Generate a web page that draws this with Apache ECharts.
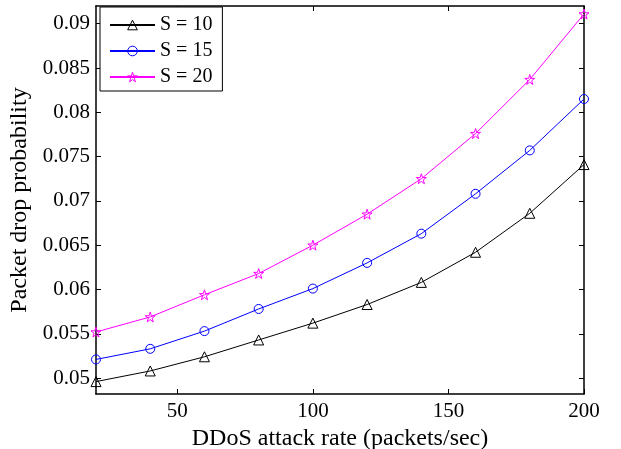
<!DOCTYPE html>
<html>
<head>
<meta charset="utf-8">
<script src="https://cdn.jsdelivr.net/npm/echarts@6/dist/echarts.min.js"></script>
<style>
html,body{margin:0;padding:0;background:#fff;}
#chart{width:621px;height:449px;}
</style>
</head>
<body>
<div id="chart"></div>
<script>
// attack rate (packets/sec)
var rates = [20, 40, 60, 80, 100, 120, 140, 160, 180, 200];
// packet drop probability per buffer size
var s10 = [0.0496, 0.0508, 0.0524, 0.0543, 0.0562, 0.0583, 0.0608, 0.0642, 0.0686, 0.0741];
var s15 = [0.0521, 0.0533, 0.0553, 0.0578, 0.0601, 0.0630, 0.0663, 0.0708, 0.0757, 0.0815];
var s20 = [0.0552, 0.0569, 0.0594, 0.0618, 0.0650, 0.0685, 0.0725, 0.0776, 0.0837, 0.0911];
var xTicks = [50, 100, 150, 200];
var yTicks = [0.05, 0.055, 0.06, 0.065, 0.07, 0.075, 0.08, 0.085, 0.09];

var font = 'Liberation Serif';
var star = 'path://M50 0L61.23 34.55L97.55 34.55L68.17 55.9L79.39 90.45L50 69.1L20.61 90.45L31.83 55.9L2.45 34.55L38.77 34.55Z';
var clear = 'rgba(0,0,0,0)';

function pairs(ys) {
    var out = [];
    for (var i = 0; i < rates.length; i++) {
        out.push([rates[i], ys[i]]);
    }
    return out;
}

function mkSeries(name, ys, color, symbol, size) {
    return {
        name: name,
        type: 'line',
        data: pairs(ys),
        symbol: symbol,
        symbolSize: size,
        showAllSymbol: true,
        clip: false,
        lineStyle: { color: color, width: 1 },
        itemStyle: { color: clear, borderColor: color, borderWidth: 1 }
    };
}

function legendItem(name, color) {
    return { name: name, itemStyle: { color: clear, borderColor: color, borderWidth: 1 } };
}

var axisLine = { show: true, onZero: false, lineStyle: { color: '#000', width: 1.5 } };

var chart = echarts.init(document.getElementById('chart'));
var option = {
    animation: false,
    backgroundColor: '#fff',
    textStyle: { fontFamily: font },
    grid: { left: 96, right: 37, top: 6, bottom: 55, outerBoundsMode: 'none', containLabel: false },
    legend: {
        orient: 'vertical',
        left: 100,
        top: 7,
        padding: [8, 10, 4, 9],
        itemGap: 6,
        itemWidth: 45,
        itemHeight: 12,
        borderColor: '#000',
        borderWidth: 1,
        backgroundColor: '#fff',
        textStyle: { fontFamily: font, fontSize: 20, color: '#000' },
        data: [
            legendItem('S = 10', '#000000'),
            legendItem('S = 15', '#0000ff'),
            legendItem('S = 20', '#ff00ff')
        ]
    },
    xAxis: [{
        type: 'value',
        min: 20,
        max: 200,
        name: 'DDoS attack rate (packets/sec)',
        nameLocation: 'middle',
        nameGap: 27,
        nameTextStyle: { fontFamily: font, fontSize: 24, color: '#000' },
        axisLine: axisLine,
        axisTick: { inside: true, length: 5, customValues: xTicks, lineStyle: { color: '#000' } },
        axisLabel: { fontFamily: font, fontSize: 21, color: '#000', margin: 7, customValues: xTicks },
        splitLine: { show: false }
    }, {
        type: 'value',
        position: 'top',
        min: 20,
        max: 200,
        axisLine: axisLine,
        axisTick: { inside: true, length: 5, customValues: xTicks, lineStyle: { color: '#000' } },
        axisLabel: { show: false },
        splitLine: { show: false }
    }],
    yAxis: [{
        type: 'value',
        min: 0.0482,
        max: 0.092,
        name: 'Packet drop probability',
        nameLocation: 'middle',
        nameGap: 56,
        nameTextStyle: { fontFamily: font, fontSize: 24, color: '#000' },
        axisLine: axisLine,
        axisTick: { inside: true, length: 5, customValues: yTicks, lineStyle: { color: '#000' } },
        axisLabel: { fontFamily: font, fontSize: 21, color: '#000', margin: 6, customValues: yTicks },
        splitLine: { show: false }
    }, {
        type: 'value',
        position: 'right',
        min: 0.0482,
        max: 0.092,
        axisLine: axisLine,
        axisTick: { inside: true, length: 5, customValues: yTicks, lineStyle: { color: '#000' } },
        axisLabel: { show: false },
        splitLine: { show: false }
    }],
    series: [
        mkSeries('S = 10', s10, '#000000', 'triangle', 10),
        mkSeries('S = 15', s15, '#0000ff', 'circle', 9),
        mkSeries('S = 20', s20, '#ff00ff', star, 10)
    ]
};
chart.setOption(option);
</script>
</body>
</html>
